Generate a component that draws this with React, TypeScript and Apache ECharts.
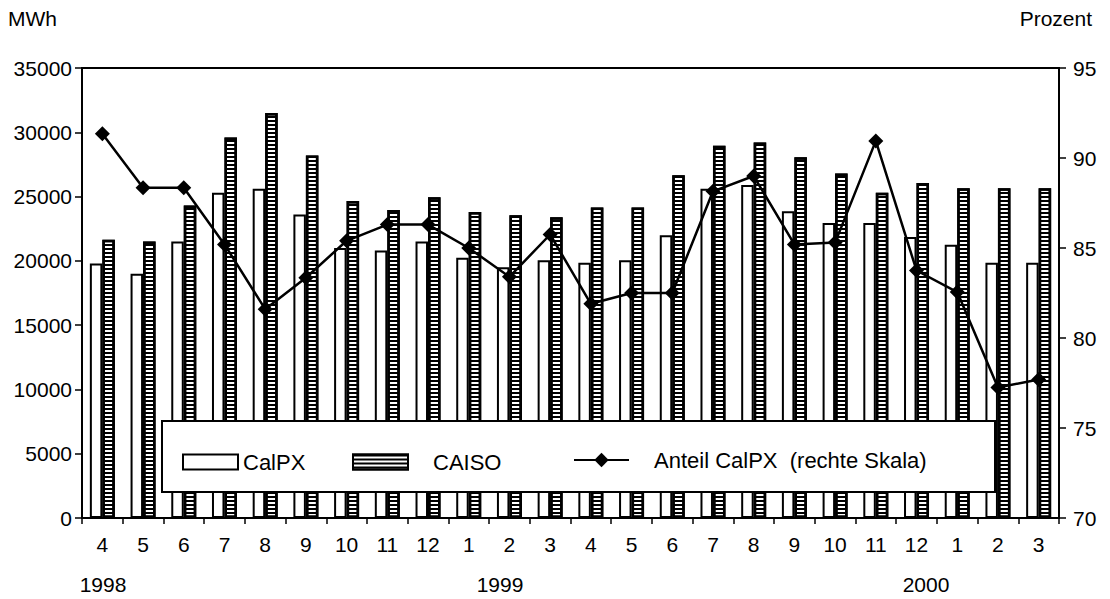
import { useEffect, useRef } from "react";
import * as echarts from "echarts";

const months = ["4", "5", "6", "7", "8", "9", "10", "11", "12", "1", "2", "3", "4", "5", "6", "7", "8", "9", "10", "11", "12", "1", "2", "3"];
const calpx = [19800, 19000, 21500, 25300, 25600, 23600, 21000, 20800, 21500, 20250, 19500, 20050, 19850, 20050, 22000, 25600, 25900, 23850, 22950, 22950, 21850, 21250, 19850, 19850];
const caiso = [21650, 21500, 24300, 29600, 31500, 28200, 24650, 23950, 24950, 23800, 23550, 23400, 24150, 24150, 26650, 28950, 29200, 28050, 26800, 25300, 26050, 25650, 25650, 25650];
const anteil = [91.35, 88.35, 88.35, 85.2, 81.6, 83.35, 85.4, 86.3, 86.3, 85.0, 83.4, 85.75, 81.9, 82.5, 82.5, 88.15, 89.0, 85.2, 85.3, 90.95, 83.75, 82.55, 77.25, 77.7];
const years = ["1998", "1999", "2000"];
const seriesNames = ["CalPX", "CAISO", "Anteil CalPX  (rechte Skala)"];
const leftUnit = "MWh";
const rightUnit = "Prozent";

const FONT = "'Liberation Sans', Arial, Helvetica, sans-serif";
const FS = 21;

export default function App() {
  const ref = useRef<HTMLDivElement>(null);
  useEffect(() => {
    if (!ref.current) return;
    const chart = echarts.init(ref.current, undefined, { renderer: "svg" });
    const yearX = [103, 500, 926];
    chart.setOption({
      animation: false,
      backgroundColor: "#fff",
      textStyle: { fontFamily: FONT, color: "#000" },
      grid: {
        left: 82,
        right: 51,
        top: 68,
        bottom: 81,
        show: true,
        borderColor: "#000",
        borderWidth: 2,
        containLabel: false,
        outerBoundsMode: "none",
      },
      xAxis: {
        type: "category",
        data: months,
        boundaryGap: true,
        axisLine: { show: true, lineStyle: { color: "#000", width: 2 } },
        axisTick: { show: true, length: 6, lineStyle: { color: "#000", width: 1.5 } },
        axisLabel: { color: "#000", fontSize: FS, fontFamily: FONT, margin: 16, interval: 0 },
        splitLine: { show: false },
      },
      yAxis: [
        {
          type: "value",
          min: 0,
          max: 35000,
          interval: 5000,
          axisLine: { show: true, lineStyle: { color: "#000", width: 2 } },
          axisTick: { show: true, length: 7, lineStyle: { color: "#000", width: 1.5 } },
          axisLabel: {
            color: "#000",
            fontSize: FS,
            fontFamily: FONT,
            margin: 10,
            formatter: (v: number) => String(v),
          },
          splitLine: { show: false },
        },
        {
          type: "value",
          min: 70,
          max: 95,
          interval: 5,
          position: "right",
          axisLine: { show: true, lineStyle: { color: "#000", width: 2 } },
          axisTick: { show: true, length: 7, lineStyle: { color: "#000", width: 1.5 } },
          axisLabel: { color: "#000", fontSize: FS, fontFamily: FONT, margin: 14 },
          splitLine: { show: false },
        },
      ],
      legend: [
        {
          data: [seriesNames[0]],
          left: 177,
          top: 446,
          z: 110,
          icon: "rect",
          itemWidth: 55,
          itemHeight: 15,
          selectedMode: false,
          textStyle: { fontSize: 22, fontFamily: FONT, color: "#000" },
        },
        {
          data: [seriesNames[1]],
          left: 347,
          top: 446,
          z: 110,
          icon: "rect",
          itemWidth: 55,
          itemHeight: 15,
          selectedMode: false,
          textStyle: { fontSize: 22, fontFamily: FONT, color: "#000", padding: [0, 0, 0, 20] },
        },
        {
          data: [seriesNames[2]],
          left: 568,
          top: 444,
          z: 110,
          itemWidth: 55,
          itemHeight: 18,
          selectedMode: false,
          textStyle: { fontSize: 22, fontFamily: FONT, color: "#000", padding: [0, 0, 0, 20] },
        },
      ],
      graphic: [
        {
          type: "rect",
          z: 100,
          shape: { x: 162, y: 421, width: 833, height: 71 },
          style: { fill: "#fff", stroke: "#000", lineWidth: 2 },
        },
        {
          type: "text",
          left: 8,
          top: 8,
          style: { text: leftUnit, font: `${FS}px ${FONT}`, fill: "#000" },
        },
        {
          type: "text",
          right: 18,
          top: 8,
          style: { text: rightUnit, font: `${FS}px ${FONT}`, fill: "#000" },
        },
        ...years.map((y, i) => ({
          type: "text",
          x: yearX[i],
          y: 574,
          style: { text: y, font: `${FS}px ${FONT}`, fill: "#000", textAlign: "center" },
        })),
      ],
      series: [
        {
          name: seriesNames[0],
          type: "bar",
          data: calpx,
          barWidth: 12.5,
          barGap: "0%",
          itemStyle: { color: "#fff", borderColor: "#000", borderWidth: 2 },
        },
        {
          name: seriesNames[1],
          type: "bar",
          data: caiso,
          barWidth: 12.5,
          barGap: "0%",
          itemStyle: {
            color: "#fff",
            borderColor: "#000",
            borderWidth: 2.5,
            decal: {
              symbol: "rect",
              symbolSize: 1,
              dashArrayX: [[1, 0]],
              dashArrayY: [2, 2],
              rotation: 0,
              color: "#000",
              backgroundColor: "#fff",
            },
          },
        },
        {
          name: seriesNames[2],
          type: "line",
          yAxisIndex: 1,
          data: anteil,
          symbol: "diamond",
          symbolSize: 15,
          lineStyle: { color: "#000", width: 2.5 },
          itemStyle: { color: "#000" },
          z: 5,
        },
      ],
    });
    return () => chart.dispose();
  }, []);
  return (
    <div
      ref={ref}
      style={{ position: "absolute", left: 0, top: 0, width: 1110, height: 599, background: "#fff" }}
    />
  );
}
